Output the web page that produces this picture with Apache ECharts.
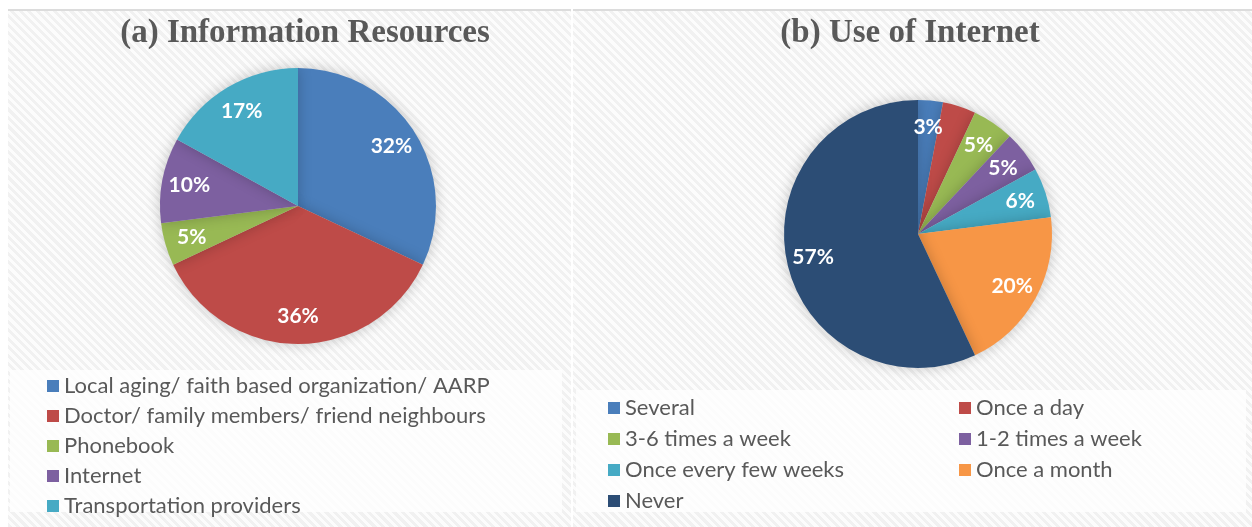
<!DOCTYPE html>
<html>
<head>
<meta charset="utf-8">
<script src="https://cdn.jsdelivr.net/npm/echarts@6/dist/echarts.min.js"></script>
<style>
  html, body { margin: 0; padding: 0; background: #fff; }
  #wrap { position: relative; width: 1252px; height: 527px; overflow: hidden; }
  .panel {
    position: absolute; top: 9px; bottom: 0;
    border-top: 2px solid #dcdcdc;
    background: repeating-linear-gradient(45deg, #f1f1f1 0px, #f1f1f1 3px, #fcfcfc 3px, #fcfcfc 6px);
  }
  .legbox { position: absolute; background: rgba(255,255,255,0.75); }
  #chart { position: absolute; left: 0; top: 0; width: 1252px; height: 527px; }
</style>
</head>
<body>
<div id="wrap">
  <div class="panel" style="left:8px;width:563px;"></div>
  <div class="panel" style="left:573px;width:679px;"></div>
  <div class="legbox" style="left:10px;top:370px;width:552px;height:142px;"></div>
  <div class="legbox" style="left:576px;top:390px;width:670px;height:122px;"></div>
  <div id="chart"></div>
</div>
<script>
// (a) Information Resources
const resNames = [
  'Local aging/ faith based organization/ AARP',
  'Doctor/ family members/ friend neighbours',
  'Phonebook',
  'Internet',
  'Transportation providers',
];
const resValues = [32, 36, 5, 10, 17];
const resColors = ['#4a7ebb', '#be4b48', '#98b954', '#7d60a0', '#46aac4'];

// (b) Use of Internet
const useNames = [
  'Several',
  'Once a day',
  '3-6 times a week',
  '1-2 times a week',
  'Once every few weeks',
  'Once a month',
  'Never',
];
const useValues = [3, 4, 5, 5, 6, 20, 57];
const useColors = ['#4a7ebb', '#be4b48', '#98b954', '#7d60a0', '#46aac4', '#f79646', '#2c4d75'];

const titleColor = '#595959';
const textColor = '#595959';

const chart = echarts.init(document.getElementById('chart'));

const toData = (names, values, colors) => names.map((n, i) => ({
  name: n, value: values[i], itemStyle: { color: colors[i] },
}));

// visible pie
const pieSeries = (center, r, names, values, colors) => ({
  type: 'pie',
  center,
  radius: [0, r],
  startAngle: 90,
  clockwise: true,
  avoidLabelOverlap: false,
  label: { show: false },
  labelLine: { show: false },
  emphasis: { scale: false },
  itemStyle: {
    shadowBlur: 14,
    shadowColor: 'rgba(0,0,0,0.22)',
  },
  data: toData(names, values, colors),
});

// transparent twin so inside labels land at ~0.78 r
const labelSeries = (center, r, names, values) => ({
  type: 'pie',
  center,
  radius: [0, r * 1.56],
  startAngle: 90,
  clockwise: true,
  silent: true,
  avoidLabelOverlap: false,
  itemStyle: { color: 'transparent' },
  label: {
    show: true,
    position: 'inside',
    formatter: '{c}%',
    color: '#fff',
    fontFamily: 'Lato',
    fontWeight: 'bold',
    fontSize: 21,
  },
  labelLine: { show: false },
  emphasis: { disabled: true },
  data: names.map((n, i) => ({ name: n, value: values[i] })),
});

const legendBase = {
  orient: 'vertical',
  icon: 'rect',
  itemWidth: 12,
  itemHeight: 12,
  selectedMode: false,
  textStyle: {
    color: textColor,
    fontFamily: 'Lato',
    fontSize: 22,
    lineHeight: 22,
  },
};

chart.setOption({
  backgroundColor: 'transparent',
  animation: false,
  title: [
    {
      text: '(a) Information Resources',
      left: 300,
      top: 12,
      textAlign: 'center',
      textStyle: { color: titleColor, fontFamily: 'Liberation Serif', fontWeight: 'bold', fontSize: 33 },
    },
    {
      text: '(b) Use of Internet',
      left: 905,
      top: 12,
      textAlign: 'center',
      textStyle: { color: titleColor, fontFamily: 'Liberation Serif', fontWeight: 'bold', fontSize: 33 },
    },
  ],
  legend: [
    { ...legendBase, left: 42, top: 370, itemGap: 8, data: resNames },
    { ...legendBase, left: 603, top: 392, itemGap: 9, data: [useNames[0], useNames[2], useNames[4], useNames[6]] },
    { ...legendBase, left: 954, top: 392, itemGap: 9, data: [useNames[1], useNames[3], useNames[5]] },
  ],
  series: [
    pieSeries([298, 206], 138, resNames, resValues, resColors),
    pieSeries([918, 234], 134, useNames, useValues, useColors),
    labelSeries([298, 206], 138, resNames, resValues),
    labelSeries([918, 234], 134, useNames, useValues),
  ],
});

window.addEventListener('resize', () => chart.resize());
</script>
</body>
</html>
